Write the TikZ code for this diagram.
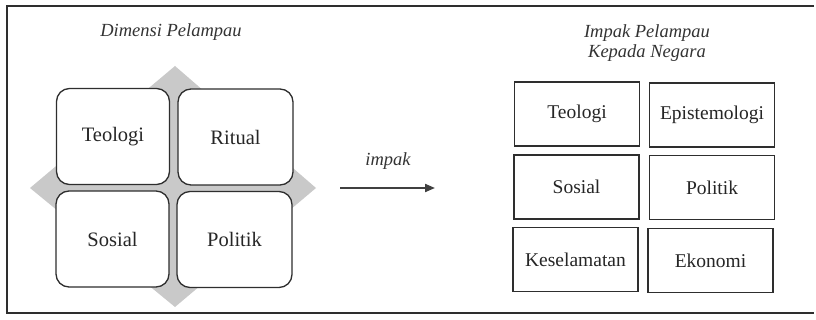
\documentclass[tikz,border=0pt]{standalone}
\usepackage{fontspec}
\setmainfont{Liberation Serif}
\usetikzlibrary{arrows.meta}
\definecolor{lineclr}{HTML}{2E2E2E}
\definecolor{diamondclr}{HTML}{C9C9C9}
\tikzset{
  rbox/.style={draw=lineclr, line width=1.3pt, fill=white, rounded corners=13pt,
    minimum width=113pt, minimum height=96pt, inner sep=0pt,
    font=\fontsize{20.5}{24}\selectfont, text=black!85},
  sbox/.style={draw=lineclr, line width=1.3pt, fill=white,
    minimum width=125pt, minimum height=64pt, inner sep=0pt,
    font=\fontsize{19.5}{23}\selectfont, text=black!85},
  heading/.style={font=\fontsize{18.5}{20}\selectfont\itshape, text=black!80, align=center, inner sep=0pt},
  arrowline/.style={line width=2pt, draw=black!75, -{Triangle[length=10pt,width=8pt]}}
}
\begin{document}
\begin{tikzpicture}[x=1pt,y=-1pt]
\useasboundingbox (0,0) rectangle (816,320);
% frame
\draw[line width=1.2pt, lineclr] (814,6) -- (7,6) -- (7,313) -- (814,313);
% headings
\node[heading] (h1) at (171,32) {Dimensi Pelampau};
\node[heading] (h2) at (647,43) {Impak Pelampau\\Kepada Negara};
% diamond
\fill[diamondclr] (175,66) -- (316,188) -- (175,307) -- (30,188) -- cycle;
% left rounded boxes
\node[rbox] (lt) at (113,136.5) {Teologi};
\node[rbox, minimum width=115pt] (lr) at (235.5,137) {Ritual};
\node[rbox] (ls) at (112.5,239) {Sosial};
\node[rbox, minimum width=115pt] (lp) at (234.5,239.5) {Politik};
% arrow
\coordinate (a1) at (340,188);
\coordinate (a2) at (435,188);
\draw[arrowline] (a1) -- (a2);
\node[font=\fontsize{18.5}{20}\selectfont\itshape, text=black!80] (imp) at (388,161) {impak};
% right boxes
\node[sbox] (rt) at (577,114) {Teologi};
\node[sbox] (re) at (712,115) {Epistemologi};
\node[sbox] (rs) at (576.5,187) {Sosial};
\node[sbox] (rp) at (712,187.5) {Politik};
\node[sbox] (rk) at (575.5,259.5) {Keselamatan};
\node[sbox] (rek) at (710.5,260.5) {Ekonomi};
\end{tikzpicture}
\end{document}
